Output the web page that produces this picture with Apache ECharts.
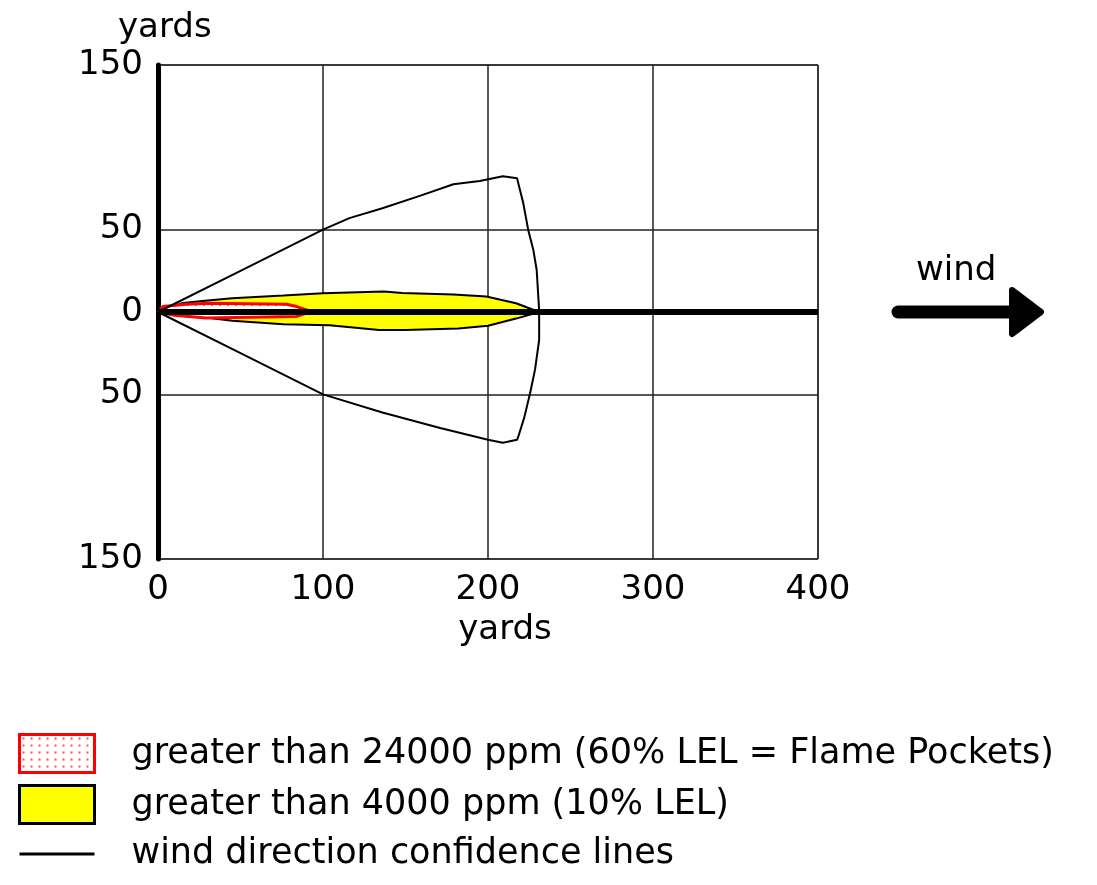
<!DOCTYPE html>
<html>
<head>
<meta charset="utf-8">
<script src="https://cdn.jsdelivr.net/npm/echarts@6/dist/echarts.min.js"></script>
<style>
  html, body { margin: 0; padding: 0; background: #fff; }
  #chart { width: 1097px; height: 885px; }
</style>
</head>
<body>
<div id="chart"></div>
<script>
// 坐标轴刻度
const xTicks = [0, 100, 200, 300, 400];
const yTicks = [-150, -50, 0, 50, 150];

// 图例名称
const NAME_RED = 'greater than 24000 ppm (60% LEL = Flame Pockets)';
const NAME_YELLOW = 'greater than 4000 ppm (10% LEL)';
const NAME_CONF = 'wind direction confidence lines';

// 10% LEL 包络（上、下边界）
const yellowUpper = [[0, 0], [15, 5.5], [30, 7], [45, 8.4], [76, 10], [100, 11.4], [137, 12.4], [148, 11.6], [179, 10.6], [199, 9.4], [217, 5.3], [231, 0]];
const yellowLower = [[0, 0], [15, -2.5], [30, -3.5], [45, -5.3], [76, -7.4], [104, -8], [134, -11], [150, -11], [182, -10], [200, -8.4], [217, -4], [231, 0]];

// 60% LEL 火焰区（上、下边界）
const redUpper = [[0, 0], [3, 3.3], [17, 4.7], [31, 5.3], [78, 4.7], [84, 3.3], [90, 1.3], [92, 0]];
const redLower = [[0, 0], [10, -2], [29, -3.7], [84, -2.7], [92, 0]];

// 风向置信线（闭合轮廓）
const confidence = [
  [0, 0], [50, 25], [100, 50], [116, 57], [136, 63], [160, 71], [179, 77.6], [195, 79.6], [209, 82.4], [217.6, 81.2],
  [221.4, 66], [224.4, 49.7], [227.5, 37.6], [229.5, 25.5], [231, 1], [231, -17], [228.5, -35], [225.5, -49.3], [222, -64], [218.4, -75.6],
  [217.6, -77.6], [209, -79.4], [200, -77.6], [171, -70.5], [136, -61], [100, -50], [50, -25], [0, 0]
];

// 中心风向线
const windAxis = [[0, 0], [400, 0]];

const FONT = 'DejaVu Sans';
const FS = 34;

// 红色点阵填充
const pat = document.createElement('canvas');
pat.width = 8; pat.height = 7;
const pctx = pat.getContext('2d');
pctx.fillStyle = '#fff';
pctx.fillRect(0, 0, 8, 7);
pctx.fillStyle = '#f55';
pctx.fillRect(3, 3, 2, 2);
const redFill = { image: pat, repeat: 'repeat' };

const chart = echarts.init(document.getElementById('chart'));

const areaSeries = (name, data, fill, stroke, width, z) => ({
  name, type: 'line', data, symbol: 'none', z,
  lineStyle: { color: stroke, width },
  itemStyle: { color: stroke },
  areaStyle: { color: fill, opacity: 1 }
});

chart.setOption({
  animation: false,
  grid: { left: 158, right: 279, top: 65, bottom: 326, show: true, borderColor: '#000', borderWidth: 1 },
  xAxis: {
    type: 'value', min: xTicks[0], max: xTicks[xTicks.length - 1], interval: 100,
    name: 'yards', nameLocation: 'middle', nameGap: 54,
    nameTextStyle: { fontFamily: FONT, fontSize: FS, color: '#000', padding: [0, 0, 0, 34] },
    axisLine: { lineStyle: { color: '#000', width: 1 } },
    axisTick: { show: false },
    axisLabel: { fontFamily: FONT, fontSize: FS, color: '#000', margin: 14 },
    splitLine: { lineStyle: { color: '#222', width: 1.5 } }
  },
  yAxis: [{
    type: 'value', min: yTicks[0], max: yTicks[yTicks.length - 1], interval: 100,
    name: 'yards', nameLocation: 'end', nameGap: 20,
    nameTextStyle: { fontFamily: FONT, fontSize: FS, color: '#000', align: 'left', padding: [0, 0, 0, -40] },
    axisLine: { show: true, lineStyle: { color: '#000', width: 5 } },
    axisTick: { show: false },
    axisLabel: { fontFamily: FONT, fontSize: FS, color: '#000', margin: 15, formatter: v => String(Math.abs(v)) },
    splitLine: { lineStyle: { color: '#222', width: 1.5 } }
  }, {
    type: 'value', position: 'left', min: yTicks[0], max: yTicks[yTicks.length - 1], interval: 150,
    axisLine: { show: false }, axisTick: { show: false }, splitLine: { show: false },
    axisLabel: { fontFamily: FONT, fontSize: FS, color: '#000', margin: 15, formatter: v => (v === 0 ? '0' : '') }
  }],
  legend: {
    orient: 'vertical', left: 13, top: 728,
    itemWidth: 75, itemHeight: 38, itemGap: 10,
    selectedMode: false,
    textStyle: { fontFamily: FONT, fontSize: 35, lineHeight: 38, color: '#000', padding: [0, 0, 0, 32] },
    data: [
      { name: NAME_RED, icon: 'rect', itemStyle: { color: redFill, borderColor: '#f00', borderWidth: 3 } },
      { name: NAME_YELLOW, icon: 'rect', itemStyle: { color: '#ff0', borderColor: '#000', borderWidth: 3 } },
      { name: NAME_CONF, icon: 'path://M0,0H75V3H0Z', itemStyle: { color: '#000', borderWidth: 0 } }
    ]
  },
  graphic: [
    { type: 'text', left: 916, top: 254, style: { text: 'wind', font: FS + 'px "DejaVu Sans"', fill: '#000' } },
    { type: 'line', shape: { x1: 898, y1: 312, x2: 1015, y2: 312 }, style: { stroke: '#000', lineWidth: 13, lineCap: 'round' } },
    { type: 'polygon', shape: { points: [[1012, 290], [1041, 312], [1012, 334]] }, style: { fill: '#000', stroke: '#000', lineWidth: 6, lineJoin: 'round' } }
  ],
  series: [
    areaSeries(NAME_YELLOW, yellowUpper, '#ff0', '#000', 2, 2),
    areaSeries(NAME_YELLOW, yellowLower, '#ff0', '#000', 2, 2),
    areaSeries(NAME_RED, redUpper, redFill, '#f00', 3, 3),
    areaSeries(NAME_RED, redLower, redFill, '#f00', 3, 3),
    { name: NAME_CONF, type: 'line', data: confidence, symbol: 'none', z: 4,
      lineStyle: { color: '#000', width: 2 }, itemStyle: { color: '#000' } },
    { name: 'axis', type: 'line', data: windAxis, symbol: 'none', z: 5,
      lineStyle: { color: '#000', width: 6 } }
  ]
});
</script>
</body>
</html>
